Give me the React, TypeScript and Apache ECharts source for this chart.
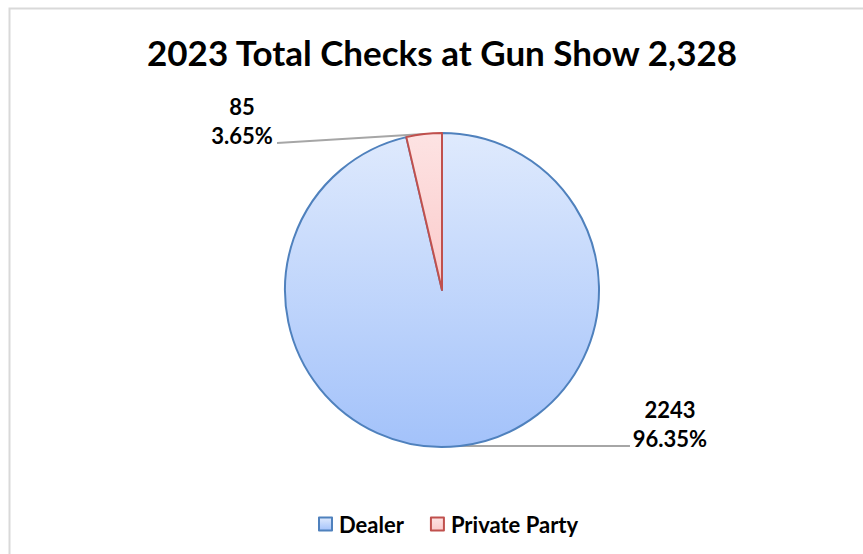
import React, { useEffect, useRef } from "react";
import * as echarts from "echarts";

const titleText = "2023 Total Checks at Gun Show 2,328";
const categories = ["Dealer", "Private Party"];
const values = [2243, 85];
const borderColors = ["#4f81bd", "#c0504d"];
const gradientTop = ["#dfeafd", "#fde3e3"];
const gradientBottom = ["#a3c2fa", "#fbcaca"];

export default function App() {
  const ref = useRef<HTMLDivElement>(null);
  useEffect(() => {
    document.body.style.margin = "0";
    const chart = echarts.init(ref.current!, null, { renderer: "svg" });
    const font = "Lato, 'Open Sans', sans-serif";
    chart.setOption({
      animation: false,
      backgroundColor: "#ffffff",
      title: {
        text: titleText,
        left: 142,
        top: 29,
        textStyle: { fontFamily: font, fontWeight: "bold", fontSize: 35, color: "#000" },
      },
      graphic: [
        {
          type: "rect",
          shape: { x: 9.5, y: 8.5, width: 900, height: 600 },
          style: { fill: "none", stroke: "#d9d9d9", lineWidth: 2 },
          silent: true,
          z: -1,
        },
      ],
      legend: {
        bottom: 14,
        left: 313,
        itemWidth: 13,
        itemHeight: 13,
        itemGap: 26,
        icon: "rect",
        textStyle: { fontFamily: font, fontWeight: "bold", fontSize: 22, color: "#000", padding: [0, 0, 0, 2] },
        data: categories,
      },
      series: [
        {
          type: "pie",
          center: [442, 290],
          radius: 157,
          startAngle: 90,
          clockwise: true,
          percentPrecision: 2,
          data: categories.map((c, i) => ({
            name: c,
            value: values[i],
            itemStyle: {
              color: new echarts.graphic.LinearGradient(0, 0, 0, 1, [
                { offset: 0, color: gradientTop[i] },
                { offset: 1, color: gradientBottom[i] },
              ]),
              borderColor: borderColors[i],
              borderWidth: 2,
            },
          })),
          label: {
            show: true,
            position: "outside",
            formatter: "{c}\n{d}%",
            fontFamily: font,
            fontWeight: "bold",
            fontSize: 22,
            lineHeight: 29,
            color: "#000",
            align: "center",
          },
          labelLine: {
            show: true,
            lineStyle: { color: "#a6a6a6", width: 2 },
          },
          labelLayout: (params: any) => {
            const pts = params.labelLinePoints;
            const p0 = pts ? pts[0] : [0, 0];
            if (params.dataIndex === 0) {
              const end = [p0[0] + 170, p0[1]];
              return {
                x: end[0] + 40,
                y: end[1] - 22,
                align: "center",
                verticalAlign: "middle",
                labelLinePoints: [p0, end, end],
              };
            }
            const end = [p0[0] - 147, p0[1] + 9];
            return {
              x: end[0] - 35,
              y: end[1] - 22,
              align: "center",
              verticalAlign: "middle",
              labelLinePoints: [p0, end, end],
            };
          },
        },
      ],
    });
    return () => chart.dispose();
  }, []);
  return <div ref={ref} style={{ width: 863, height: 554 }} />;
}
